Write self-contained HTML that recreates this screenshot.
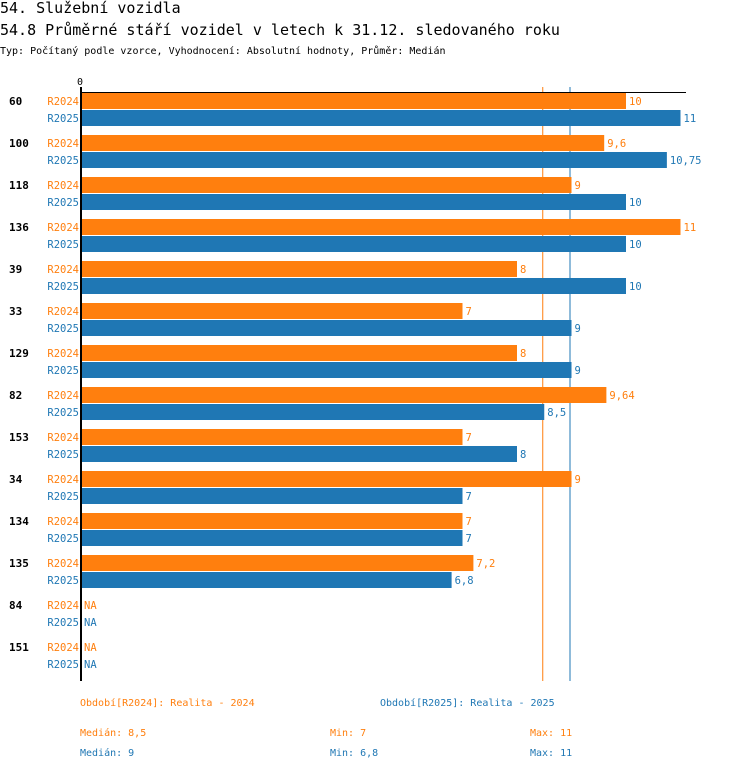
<!DOCTYPE html>
<html><head><meta charset="utf-8"><style>
body{margin:0;background:#fff;width:750px;height:770px;overflow:hidden;font-family:"DejaVu Sans Mono","Liberation Mono",monospace}
svg text{font-family:"DejaVu Sans Mono","Liberation Mono",monospace}
</style></head><body>
<svg id="c" width="750" height="770">
<text x="0" y="13" font-size="15">54. Služební vozidla</text>
<text x="0" y="35" font-size="15">54.8 Průměrné stáří vozidel v letech k 31.12. sledovaného roku</text>
<text x="0" y="54" font-size="10">Typ: Počítaný podle vzorce, Vyhodnocení: Absolutní hodnoty, Průměr: Medián</text>
<text x="77" y="85" font-size="10">0</text>
<g id="g"></g>
<text x="80" y="706" font-size="10" fill="#ff7f0e">Období[R2024]: Realita - 2024</text>
<text x="380" y="706" font-size="10" fill="#1f77b4">Období[R2025]: Realita - 2025</text>
<text x="80" y="736" font-size="10" fill="#ff7f0e">Medián: 8,5</text>
<text x="330" y="736" font-size="10" fill="#ff7f0e">Min: 7</text>
<text x="530" y="736" font-size="10" fill="#ff7f0e">Max: 11</text>
<text x="80" y="756" font-size="10" fill="#1f77b4">Medián: 9</text>
<text x="330" y="756" font-size="10" fill="#1f77b4">Min: 6,8</text>
<text x="530" y="756" font-size="10" fill="#1f77b4">Max: 11</text>
</svg>
<script>
const categories=["60","100","118","136","39","33","129","82","153","34","134","135","84","151"];
const r2024=[10,9.6,9,11,8,7,8,9.64,7,9,7,7.2,null,null];
const r2025=[11,10.75,10,10,10,9,9,8.5,8,7,7,6.8,null,null];
const medians=[8.5,9];
const seriesNames=["R2024","R2025"];
const colors=["#ff7f0e","#1f77b4"];
const NS="http://www.w3.org/2000/svg";
const g=document.getElementById('g');
const X0=81,K=54.5,Y0=93,GAP=42;
const xs=v=>X0+v*K;
function el(t,a,txt){const e=document.createElementNS(NS,t);for(const k in a)e.setAttribute(k,a[k]);if(txt!=null)e.textContent=txt;g.appendChild(e);return e;}
const fmt=v=>String(v).replace('.',',');
medians.forEach((m,j)=>{
  const ln=el('line',{x1:xs(m)-1.5,x2:xs(m)-1.5,y1:87,y2:681,stroke:colors[j],'stroke-width':1});
  
  
});
categories.forEach((c,i)=>{
  const gy=Y0+i*GAP;
  const l=el('text',{x:9,y:gy+12,'font-size':11,'font-weight':'bold'},c);
  
  
  [r2024,r2025].forEach((s,j)=>{
    const y=gy+j*17;
    const sl=el('text',{x:79,y:y+12,'font-size':10.5,fill:colors[j],'text-anchor':'end'},seriesNames[j]);
    
    
    const v=s[i];
    if(v!=null){
      const b=el('rect',{x:X0,y:y,width:xs(v)-X0,height:16,fill:colors[j]});
      
      
    }
    const vt=el('text',{x:(v!=null?xs(v):X0)+3,y:y+12,'font-size':10.5,fill:colors[j]},v!=null?fmt(v):'NA');
    
    
  });
});
const ax=el('line',{x1:X0,x2:X0,y1:87,y2:681,stroke:'#000','stroke-width':2});


const tx=el('line',{x1:X0,x2:686,y1:92.5,y2:92.5,stroke:'#000','stroke-width':1});


</script>
</body></html>
